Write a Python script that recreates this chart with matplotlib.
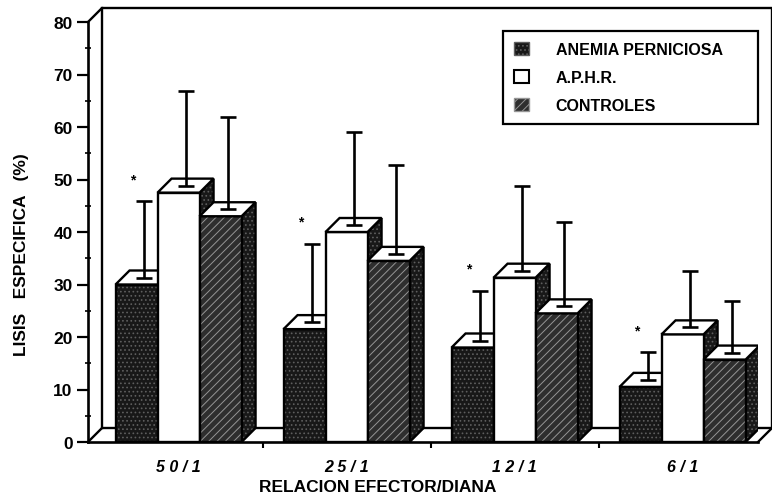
import matplotlib.pyplot as plt
from matplotlib.patches import Polygon, Patch

groups = ['5 0 / 1', '2 5 / 1', '1 2 / 1', '6 / 1']
series = ['ANEMIA PERNICIOSA', 'A.P.H.R.', 'CONTROLES']
anemia = [30, 21.5, 18, 10.5]
aphr = [47.5, 40, 31.3, 20.5]
controles = [43, 34.5, 24.5, 15.7]
anemia_err = [14.5, 14.9, 9.5, 5.3]
aphr_err = [18, 17.7, 16.2, 10.8]
controles_err = [17.5, 17, 16, 9.9]

plt.rcParams['font.family'] = 'Liberation Sans'
plt.rcParams['font.weight'] = 'bold'
plt.rcParams['hatch.linewidth'] = 0.7

# front face styles: facecolor, hatch colour, hatch
styles = [('#181818', '#5e5e5e', '....'),
          ('white', None, None),
          ('#2e2e2e', '#959595', '////')]

fig = plt.figure(figsize=(7.72, 5.02), dpi=100)
ax = fig.add_axes([88/772, 59/502, 670/772, 420/502])
ax.set_xlim(-0.539, 3.449)
ax.set_ylim(0, 80)

w = 0.25          # bar width (group spacing = 1)
ddx = 14/168      # depth offset in x
ddy = 14/5.25     # depth offset in y


def face(pts, fc, hc, hatch):
    if hatch:
        ax.add_patch(Polygon(pts, closed=True, facecolor=fc, edgecolor=hc,
                             hatch=hatch, lw=0, zorder=2))
    else:
        ax.add_patch(Polygon(pts, closed=True, facecolor=fc, lw=0, zorder=2))
    ax.add_patch(Polygon(pts, closed=True, fill=False, edgecolor='black',
                         lw=1.7, joinstyle='miter', zorder=2))


def box(x, v, style):
    xl, xr = x - w/2, x + w/2
    face([(xr, 0), (xr+ddx, ddy), (xr+ddx, v+ddy), (xr, v)], '#181818', '#5e5e5e', '....')
    face([(xl, 0), (xr, 0), (xr, v), (xl, v)], *style)
    face([(xl, v), (xr, v), (xr+ddx, v+ddy), (xl+ddx, v+ddy)], 'white', None, None)


# back wall and floor
x0, x1 = ax.get_xlim()
kw = dict(color='black', lw=1.7, clip_on=False, zorder=1)
ax.plot([x0, x0+ddx, x1+ddx, x1+ddx], [80, 80+ddy, 80+ddy, ddy], **kw)
ax.plot([x0+ddx, x0+ddx], [80+ddy, ddy], **kw)
ax.plot([x0, x0+ddx, x1+ddx], [0, ddy, ddy], **kw)
ax.plot([x1, x1+ddx], [0, ddy], **kw)

vals = [anemia, aphr, controles]
errs = [anemia_err, aphr_err, controles_err]
for g in range(len(groups)):
    for s in range(3):
        x = g + (s - 1) * w
        v = vals[s][g]
        box(x, v, styles[s])
        ax.errorbar(x + ddx/2, v + ddy/2, yerr=[[0], [errs[s][g]]], fmt='none',
                    ecolor='black', elinewidth=1.9, capsize=6, capthick=1.9, zorder=3)
    # significance mark over anemia bar
    ax.text(g - w - 0.025, anemia[g] + anemia_err[g] + ddy/2 + 4.2, '*',
            ha='center', va='center', fontsize=10)

for side in ['top', 'right']:
    ax.spines[side].set_visible(False)
for side in ['left', 'bottom']:
    ax.spines[side].set_linewidth(1.9)

ax.set_yticks(range(0, 81, 10))
ax.set_yticks(range(5, 80, 10), minor=True)
ax.tick_params(axis='y', which='major', length=8, width=1.6, labelsize=12.5, pad=3)
ax.tick_params(axis='y', which='minor', length=5, width=1.2, direction='inout')
ax.set_xticks(range(len(groups)), groups, style='italic')
ax.set_xticks([0.5, 1.5, 2.5], minor=True)
ax.tick_params(axis='x', which='major', length=0, labelsize=11.5, pad=12)
ax.tick_params(axis='x', which='minor', length=4, width=1.5)

fig.text(378/772, 1 - 488/502, 'RELACION EFECTOR/DIANA', ha='center', va='center',
         fontsize=12.5)
fig.text(22/772, 1 - 255/502, 'LISIS   ESPECIFICA   (%)', ha='center', va='center',
         rotation=90, fontsize=12.5)

handles = [Patch(facecolor='#181818', edgecolor='#5e5e5e', hatch='....'),
           Patch(facecolor='white', edgecolor='black', lw=1.5),
           Patch(facecolor='#2e2e2e', edgecolor='#959595', hatch='////')]
leg = ax.legend(handles, series, loc='upper left',
                bbox_to_anchor=(503/772, 1 - 32/502, 255/772, 0),
                bbox_transform=fig.transFigure, mode='expand', borderaxespad=0,
                fontsize=11.5, handlelength=0.9, handleheight=0.9, handletextpad=1.7,
                labelspacing=0.8, borderpad=0.7, fancybox=False, framealpha=1,
                edgecolor='black')
leg.get_frame().set_linewidth(1.6)

fig.savefig('out.png', dpi=100)
